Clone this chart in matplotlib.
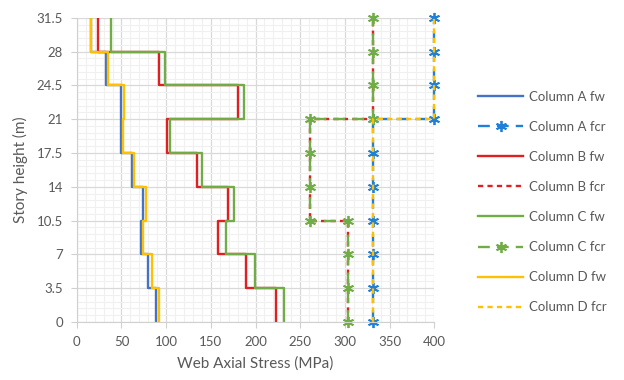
import numpy as np
import matplotlib
matplotlib.use('Agg')
import matplotlib.pyplot as plt
from matplotlib.ticker import MultipleLocator

plt.rcParams['font.family'] = ['Lato', 'DejaVu Sans']

# story levels (m) and web axial stress per story (bottom -> top)
levels = [0, 3.5, 7, 10.5, 14, 17.5, 21, 24.5, 28, 31.5]
fw_A = [88.4, 79.8, 71.5, 74.5, 61.5, 49.8, 49.8, 32.6, 15.5]
fw_B = [222.8, 189.9, 158.4, 168.9, 134.5, 101.0, 180.0, 92.5, 24.3]
fw_C = [232.2, 199.2, 166.6, 176.4, 140.4, 104.5, 186.9, 98.9, 38.0]
fw_D = [91.8, 84.3, 74.5, 77.2, 64.5, 52.0, 52.5, 35.2, 16.0]

# critical stress profiles (points along the height)
fcr_AD_x = [331, 331, 331, 331, 331, 331, 331, 400, 400, 400, 400]
fcr_AD_y = [0, 3.5, 7, 10.5, 14, 17.5, 21, 21, 24.5, 28, 31.5]
fcr_BC_x = [303, 303, 303, 303, 261, 261, 261, 261, 331, 331, 331, 331]
fcr_BC_y = [0, 3.5, 7, 10.5, 10.5, 14, 17.5, 21, 21, 24.5, 28, 31.5]

blue = '#4472C4'
blue2 = '#2080D8'
red = '#E02020'
green = '#70AD47'
yellow = '#FFC000'
grey = '#595959'


def steps(vals):
    xs = np.repeat(vals, 2)
    ys = np.column_stack([levels[:-1], levels[1:]]).ravel()
    return xs, ys


fig = plt.figure(figsize=(6.24, 3.8), dpi=100)
ax = fig.add_axes([0.123, 0.153, 0.573, 0.8])

star = (6, 2, 0)
lw = 1.7
x, y = steps(fw_A)
ax.plot(x, y, color=blue, lw=lw, label='Column A fw')
ax.plot(fcr_AD_x, fcr_AD_y, color=blue2, lw=lw, dashes=(5, 3), marker=star,
        ms=8, mew=1.3, clip_on=False, label='Column A fcr')
x, y = steps(fw_B)
ax.plot(x, y, color=red, lw=lw, label='Column B fw')
ax.plot(fcr_BC_x, fcr_BC_y, color=red, lw=lw, dashes=(2.2, 1.8),
        clip_on=False, label='Column B fcr')
x, y = steps(fw_C)
ax.plot(x, y, color=green, lw=lw, label='Column C fw')
ax.plot(fcr_BC_x, fcr_BC_y, color=green, lw=lw, dashes=(5, 3), marker=star,
        ms=8, mew=1.3, clip_on=False, label='Column C fcr')
x, y = steps(fw_D)
ax.plot(x, y, color=yellow, lw=lw, label='Column D fw')
ax.plot(fcr_AD_x, fcr_AD_y, color=yellow, lw=lw, dashes=(2.2, 1.8),
        clip_on=False, label='Column D fcr')

ax.set_xlim(0, 400)
ax.set_ylim(0, 31.5)
ax.xaxis.set_major_locator(MultipleLocator(50))
ax.xaxis.set_minor_locator(MultipleLocator(10))
ax.set_yticks(levels)
ax.set_yticklabels(['0', '3.5', '7', '10.5', '14', '17.5', '21', '24.5', '28', '31.5'])
ax.yaxis.set_minor_locator(MultipleLocator(0.7))
ax.grid(which='major', color='#D9D9D9', lw=0.9)
ax.grid(which='minor', color='#F0F0F0', lw=0.8)
ax.set_axisbelow(True)
for s in ['top', 'right']:
    ax.spines[s].set_visible(False)
for s in ['left', 'bottom']:
    ax.spines[s].set_color('#D0D0D0')
ax.tick_params(which='major', length=4, color='#D0D0D0', labelsize=9.5,
               labelcolor=grey, pad=6)
ax.tick_params(which='minor', length=0)
ax.set_xlabel('Web Axial Stress (MPa)', fontsize=11, color=grey, labelpad=6)
ax.set_ylabel('Story height (m)', fontsize=11, color=grey, labelpad=6)

fig.legend(loc='upper left', bbox_to_anchor=(0.758, 0.775), frameon=False,
           fontsize=9.5, labelcolor=grey, handlelength=3.4, handletextpad=0.45,
           labelspacing=1.37, borderaxespad=0)

fig.savefig('out.png', dpi=100)
